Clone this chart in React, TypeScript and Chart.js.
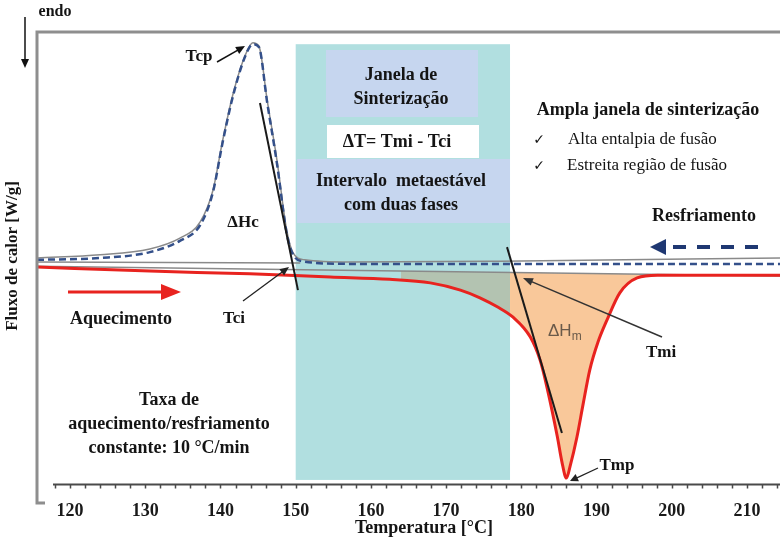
import { useEffect, useRef } from "react";
import { Chart, registerables } from "chart.js";

Chart.register(...registerables);

// Heating run (red): temperature [°C] and heat flow (arbitrary units, endo down)
const heatingT = [115.6, 130.6, 143.9, 154.6, 162.5, 167.9, 171.9, 174.5, 176.8, 178.9, 181.2, 182.5, 183.4, 184.8, 185.4, 186.0, 186.5, 187.4, 188.2, 189.1, 190.2, 191.4, 193.1, 195.4, 198.1, 203.8, 214.4];
const heatingFlow = [48.0, 47.1, 46.5, 45.8, 45.3, 44.5, 42.9, 41.2, 39.2, 36.9, 32.5, 27.4, 21.5, 10.4, 4.9, 1.3, 4.0, 10.4, 17.5, 25.2, 31.4, 36.3, 42.3, 45.6, 46.2, 46.2, 46.2];

// Cooling run: solid grey trace and dashed blue trace
const coolingT = [115.6, 124.0, 130.6, 134.6, 137.3, 139.0, 140.3, 141.7, 143.3, 144.3, 145.1, 146.2, 147.5, 148.8, 149.6, 151.2, 157.2, 177.2, 214.4];
const coolingFlow = [50.0, 50.7, 52.0, 54.4, 58.0, 65.0, 76.1, 86.5, 94.9, 97.6, 96.9, 85.0, 71.7, 56.2, 51.3, 49.6, 49.1, 49.3, 50.0];
const coolingDashedFlow = [49.6, 50.0, 51.3, 53.8, 57.3, 64.6, 75.7, 86.1, 94.7, 97.3, 96.7, 84.5, 71.0, 55.5, 50.9, 49.2, 48.7, 48.7, 48.7];

// Baselines and onset tangents
const coolingBaseT = [115.6, 150.6];
const coolingBaseFlow = [49.1, 48.9];
const heatingBaseT = [115.6, 214.4];
const heatingBaseFlow = [48.2, 46.0];
const coolTangentT = [145.25, 150.3];
const coolTangentFlow = [84.3, 42.9];
const meltTangentT = [178.1, 185.4];
const meltTangentFlow = [52.4, 11.3];

// Sintering window: Tci .. Tmi
const sinterWindow = [150.0, 178.5];
const windowFlow = [0.9, 97.3];

// Axis
const xMin = 115.6;
const xMax = 214.4;
const minorTicks = [118, 120, 122, 124, 126, 128, 130, 132, 134, 136, 138, 140, 142, 144, 146, 148, 150, 152, 154, 156, 158, 160, 162, 164, 166, 168, 170, 172, 174, 176, 178, 180, 182, 184, 186, 188, 190, 192, 194, 196, 198, 200, 202, 204, 206, 208, 210, 212, 214];
const tickLabels = [120, 130, 140, 150, 160, 170, 180, 190, 200, 210];

const pts = (xs: number[], ys: number[]) => xs.map((x, i) => ({ x, y: ys[i] }));

const SERIF = '"Liberation Serif", "Times New Roman", serif';
const bold = (s: number) => `bold ${s}px ${SERIF}`;
const reg = (s: number) => `${s}px ${SERIF}, "DejaVu Sans"`;

function text(ctx: CanvasRenderingContext2D, s: string, x: number, y: number, font: string, color = "#141414", align: CanvasTextAlign = "center") {
  ctx.font = font;
  ctx.fillStyle = color;
  ctx.textAlign = align;
  ctx.textBaseline = "middle";
  ctx.fillText(s, x, y);
}

function arrow(ctx: CanvasRenderingContext2D, x1: number, y1: number, x2: number, y2: number, color: string, width: number, head: number, hw: number, dash: number[] = []) {
  const a = Math.atan2(y2 - y1, x2 - x1);
  const c = Math.cos(a), s = Math.sin(a);
  ctx.save();
  ctx.strokeStyle = color;
  ctx.fillStyle = color;
  ctx.lineWidth = width;
  ctx.setLineDash(dash);
  ctx.beginPath();
  ctx.moveTo(x1, y1);
  ctx.lineTo(x2 - head * c * 0.8, y2 - head * s * 0.8);
  ctx.stroke();
  ctx.setLineDash([]);
  ctx.beginPath();
  ctx.moveTo(x2, y2);
  ctx.lineTo(x2 - head * c + hw * s, y2 - head * s - hw * c);
  ctx.lineTo(x2 - head * c - hw * s, y2 - head * s + hw * c);
  ctx.closePath();
  ctx.fill();
  ctx.restore();
}

const dscPlugin = {
  id: "dscDecor",
  beforeDatasetsDraw(chart: any) {
    const { ctx, scales } = chart;
    const X = (v: number) => scales.x.getPixelForValue(v);
    const Y = (v: number) => scales.y.getPixelForValue(v);
    ctx.save();
    // sintering window
    const l = X(sinterWindow[0]), r = X(sinterWindow[1]);
    const t = Y(windowFlow[1]), b = Y(windowFlow[0]);
    ctx.fillStyle = "#b1dfe0";
    ctx.fillRect(l, t, r - l, b - t);
    ctx.fillStyle = "#c6d6ef";
    ctx.fillRect(326, 50, 152, 67);
    ctx.fillRect(297, 159, 213, 64);
    ctx.fillStyle = "#ffffff";
    ctx.fillRect(327, 125, 152, 33);

    // melting enthalpy area between heating trace and its baseline
    const meta = chart.getDatasetMeta(0);
    const line: any = meta.dataset;
    if (line) {
      if (typeof line.updateControlPoints === "function") line.updateControlPoints(chart.chartArea, "x");
      const p = new Path2D();
      if (typeof line.path === "function") {
        line.path(p);
      } else {
        meta.data.forEach((pt: any, i: number) => (i ? p.lineTo(pt.x, pt.y) : p.moveTo(pt.x, pt.y)));
      }
      p.lineTo(X(heatingBaseT[1]), Y(heatingBaseFlow[1]));
      p.lineTo(X(heatingBaseT[0]), Y(heatingBaseFlow[0]));
      p.closePath();
      const ca = chart.chartArea;
      const regions: [number, number, string][] = [
        [164, sinterWindow[1], "#b3c3b1"],
        [sinterWindow[1], 199, "#f9c89a"],
      ];
      for (const [a, z, col] of regions) {
        ctx.save();
        ctx.beginPath();
        ctx.rect(X(a), ca.top, X(z) - X(a), ca.bottom - ca.top);
        ctx.clip();
        ctx.fillStyle = col;
        ctx.fill(p);
        ctx.restore();
      }
    }
    ctx.restore();
  },
  afterDatasetsDraw(chart: any) {
    const { ctx, scales, chartArea } = chart;
    const X = (v: number) => scales.x.getPixelForValue(v);
    ctx.save();

    // frame
    ctx.strokeStyle = "#8e8e8e";
    ctx.lineWidth = 3;
    ctx.beginPath();
    ctx.moveTo(chart.width, 32);
    ctx.lineTo(37, 32);
    ctx.lineTo(37, 503);
    ctx.lineTo(45, 503);
    ctx.stroke();

    // temperature axis
    const ay = chartArea.bottom + 0.5;
    ctx.strokeStyle = "#4a4a4a";
    ctx.lineWidth = 2;
    ctx.beginPath();
    ctx.moveTo(53, ay);
    ctx.lineTo(chart.width, ay);
    ctx.stroke();
    ctx.lineWidth = 1.5;
    ctx.beginPath();
    for (const tk of minorTicks) {
      const x = Math.round(X(tk)) + 0.5;
      ctx.moveTo(x, ay);
      ctx.lineTo(x, ay + 4);
    }
    ctx.stroke();
    for (const tl of tickLabels) text(ctx, String(tl), X(tl), 511, bold(18), "#1a1a1a");
    text(ctx, "Temperatura [°C]", 424, 528, bold(18));

    // heat-flow axis label
    ctx.save();
    ctx.translate(13, 256);
    ctx.rotate(-Math.PI / 2);
    text(ctx, "Fluxo de calor [W/g]", 0, 0, bold(17));
    ctx.restore();

    // endo direction
    text(ctx, "endo", 55, 12, bold(16));
    arrow(ctx, 25, 17, 25, 68, "#111", 1.5, 9, 4);

    // peak / onset labels
    text(ctx, "Tcp", 199, 57, bold(17));
    arrow(ctx, 217, 62, 245, 46, "#111", 1.5, 9, 4);
    text(ctx, "ΔHc", 243, 223, bold(17));
    text(ctx, "Tci", 234, 319, bold(17));
    arrow(ctx, 243, 301, 289, 267, "#222", 1.3, 9, 4);
    text(ctx, "Tmi", 661, 353, bold(17));
    arrow(ctx, 662, 337, 523, 278, "#333", 1.5, 10, 4);
    text(ctx, "Tmp", 617, 466, bold(17));
    arrow(ctx, 598, 468, 570, 481, "#222", 1.3, 8, 4);

    // ΔHm
    ctx.font = `17px "Liberation Sans", Arial, sans-serif`;
    ctx.fillStyle = "#6a5a4a";
    ctx.textAlign = "left";
    ctx.textBaseline = "middle";
    ctx.fillText("ΔH", 548, 331);
    const w = ctx.measureText("ΔH").width;
    ctx.font = `12px "Liberation Sans", Arial, sans-serif`;
    ctx.fillText("m", 548 + w, 337);

    // heating / cooling arrows
    text(ctx, "Aquecimento", 121, 319, bold(18));
    arrow(ctx, 68, 292, 181, 292, "#e8231f", 3, 20, 8);
    text(ctx, "Resfriamento", 704, 216, bold(18));
    arrow(ctx, 758, 247, 650, 247, "#1f3872", 4, 16, 8, [13, 11]);

    // sintering window texts
    text(ctx, "Janela de", 401, 75, bold(18));
    text(ctx, "Sinterização", 401, 99, bold(18));
    text(ctx, "ΔT= Tmi - Tci", 397, 142, bold(18));
    text(ctx, "Intervalo  metaestável", 401, 181, bold(18));
    text(ctx, "com duas fases", 401, 205, bold(18));

    // side notes
    text(ctx, "Ampla janela de sinterização", 648, 110, bold(18));
    text(ctx, "✓", 539, 140, `14px "DejaVu Sans"`);
    text(ctx, "Alta entalpia de fusão", 568, 140, reg(17), "#141414", "left");
    text(ctx, "✓", 539, 166, `14px "DejaVu Sans"`);
    text(ctx, "Estreita região de fusão", 567, 166, reg(17), "#141414", "left");

    text(ctx, "Taxa de", 169, 400, bold(18));
    text(ctx, "aquecimento/resfriamento", 169, 424, bold(18));
    text(ctx, "constante: 10 °C/min", 169, 448, bold(18));

    ctx.restore();
  },
};

export default function App() {
  const ref = useRef<HTMLCanvasElement | null>(null);
  useEffect(() => {
    if (!ref.current) return;
    const curve = { pointRadius: 0, cubicInterpolationMode: "monotone" as const, fill: false };
    const straight = { pointRadius: 0, tension: 0, fill: false };
    const chart = new Chart(ref.current, {
      type: "line",
      data: {
        datasets: [
          { ...curve, label: "Aquecimento", data: pts(heatingT, heatingFlow), borderColor: "#e8231f", borderWidth: 3, order: 1 },
          { ...curve, label: "Resfriamento", data: pts(coolingT, coolingFlow), borderColor: "#8a8a8a", borderWidth: 1.5, order: 4 },
          { ...curve, label: "Resfriamento (tracejado)", data: pts(coolingT, coolingDashedFlow), borderColor: "#34508a", borderWidth: 2.5, borderDash: [7, 4], order: 3 },
          { ...straight, label: "Linha base resfriamento", data: pts(coolingBaseT, coolingBaseFlow), borderColor: "#8a8a8a", borderWidth: 1.5, order: 5 },
          { ...straight, label: "Linha base aquecimento", data: pts(heatingBaseT, heatingBaseFlow), borderColor: "#8a8a8a", borderWidth: 1.5, order: 5 },
          { ...straight, label: "Tangente Tci", data: pts(coolTangentT, coolTangentFlow), borderColor: "#1a1a1a", borderWidth: 2, order: 0 },
          { ...straight, label: "Tangente Tmi", data: pts(meltTangentT, meltTangentFlow), borderColor: "#1a1a1a", borderWidth: 2, order: 0 },
        ],
      },
      options: {
        animation: false,
        responsive: false,
        devicePixelRatio: 1,
        layout: { padding: { left: 37, right: 0, top: 32, bottom: 59 } },
        scales: {
          x: { type: "linear", min: xMin, max: xMax, display: false },
          y: { type: "linear", min: 0, max: 100, display: false },
        },
        plugins: { legend: { display: false }, tooltip: { enabled: false } },
        events: [],
      },
      plugins: [dscPlugin],
    });
    return () => chart.destroy();
  }, []);
  return (
    <div style={{ position: "absolute", left: 0, top: 0, width: 780, height: 543, background: "#fff" }}>
      <canvas ref={ref} width={780} height={543} style={{ display: "block" }} />
    </div>
  );
}
